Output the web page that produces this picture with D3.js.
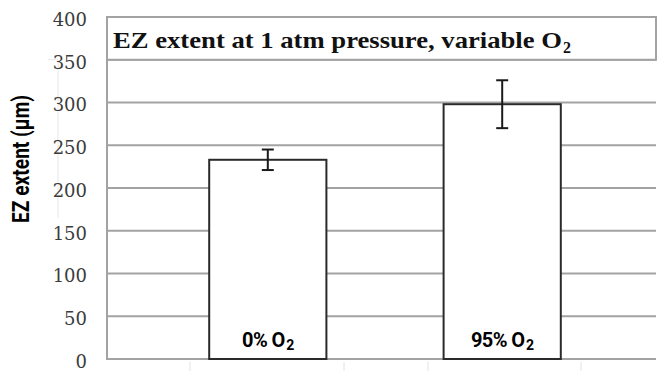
<!DOCTYPE html>
<html>
<head>
<meta charset="utf-8">
<script src="https://cdn.jsdelivr.net/npm/d3@7"></script>
<style>
  body { margin: 0; background: #fff; }
  svg { display: block; }
</style>
</head>
<body>
<svg id="chart" width="657" height="371"></svg>
<script>
// data
const categories = ["0% O", "95% O"];
const means = [233, 298];
const errors = [12, 28];
const yTicks = [0, 50, 100, 150, 200, 250, 300, 350, 400];
const title = "EZ extent at 1 atm pressure, variable O";
const yLabel = "EZ extent  (\u03bcm)";

const svg = d3.select("#chart");
const W = 657, H = 371;
const margin = {top: 17, right: 656, bottom: 359, left: 107};

// y scale
const y = d3.scaleLinear().domain([0, 400]).range([margin.bottom, margin.top]);

// x scale (band) : bars centred ~267 and ~502
const x = d3.scaleBand()
  .domain(categories)
  .range([92, 678])
  .padding(0.5);

const gridColor = "#a3a3a3";

// grid lines
svg.append("g")
  .selectAll("line")
  .data(yTicks)
  .join("line")
  .attr("x1", margin.left).attr("x2", margin.right)
  .attr("y1", d => y(d)).attr("y2", d => y(d))
  .attr("stroke", gridColor)
  .attr("stroke-width", 2);

// left axis line
svg.append("line")
  .attr("x1", margin.left).attr("x2", margin.left)
  .attr("y1", y(400) - 1).attr("y2", y(0) + 1)
  .attr("stroke", gridColor)
  .attr("stroke-width", 2);

// faint marks below the axis
svg.append("g")
  .selectAll("line")
  .data([190, 344, 428, 581])
  .join("line")
  .attr("x1", d => d).attr("x2", d => d)
  .attr("y1", margin.bottom + 3).attr("y2", H)
  .attr("stroke", "#e2e2e2")
  .attr("stroke-width", 1);

// faint line near y label
svg.append("path")
  .attr("d", `M48,${y(350)}H58V${y(165)}`)
  .attr("fill", "none")
  .attr("stroke", "#e6e6e6")
  .attr("stroke-width", 1);

// y tick labels
const yAxis = svg.append("g")
  .attr("transform", `translate(${margin.left},0)`)
  .call(d3.axisLeft(y).tickValues(yTicks).tickSize(0).tickPadding(20));
yAxis.select(".domain").remove();
yAxis.selectAll("text")
  .attr("font-family", "'DejaVu Serif', 'Liberation Serif', serif")
  .attr("font-size", 18)
  .attr("fill", "#3c3c3c")
  .attr("dy", "0.47em");

// y axis label
svg.append("text")
  .attr("transform", `translate(29,${(95 + 223) / 2}) rotate(-90)`)
  .attr("text-anchor", "middle")
  .attr("font-family", "'Roboto', 'Liberation Sans', sans-serif")
  .attr("font-weight", "bold")
  .attr("font-size", 23)
  .attr("textLength", 128)
  .attr("lengthAdjust", "spacingAndGlyphs")
  .attr("fill", "#000")
  .text(yLabel);

// title box
svg.append("rect")
  .attr("x", margin.left).attr("y", y(400))
  .attr("width", margin.right - margin.left).attr("height", y(350) - y(400))
  .attr("fill", "#fff")
  .attr("stroke", gridColor)
  .attr("stroke-width", 2);

const t = svg.append("text")
  .attr("x", 113).attr("y", 48)
  .attr("font-family", "'Liberation Serif', 'DejaVu Serif', serif")
  .attr("font-weight", "bold")
  .attr("font-size", 23)
  .attr("fill", "#111");
t.append("tspan")
  .attr("textLength", 449)
  .attr("lengthAdjust", "spacingAndGlyphs")
  .text(title);
t.append("tspan").attr("font-size", 16).attr("dy", 5).attr("dx", 1).text("2");

// bars
svg.append("g")
  .selectAll("rect")
  .data(categories)
  .join("rect")
  .attr("x", d => x(d))
  .attr("width", x.bandwidth())
  .attr("y", (d, i) => y(means[i]))
  .attr("height", (d, i) => y(0) - y(means[i]))
  .attr("fill", "#fff")
  .attr("stroke", "#2a2a2a")
  .attr("stroke-width", 2);

// error bars
const eb = svg.append("g")
  .attr("stroke", "#1a1a1a")
  .attr("stroke-width", 2);
categories.forEach((c, i) => {
  const cx = x(c) + x.bandwidth() / 2;
  const y1 = y(means[i] + errors[i]);
  const y2 = y(means[i] - errors[i]);
  eb.append("line").attr("x1", cx).attr("x2", cx).attr("y1", y1).attr("y2", y2);
  eb.append("line").attr("x1", cx - 6).attr("x2", cx + 6).attr("y1", y1).attr("y2", y1);
  eb.append("line").attr("x1", cx - 6).attr("x2", cx + 6).attr("y1", y2).attr("y2", y2);
});

// category labels inside bars
const lab = svg.append("g")
  .selectAll("text")
  .data(categories)
  .join("text")
  .attr("x", d => x(d) + x.bandwidth() / 2)
  .attr("y", 347)
  .attr("text-anchor", "middle")
  .attr("font-family", "'Roboto', 'Liberation Sans', sans-serif")
  .attr("font-weight", "bold")
  .attr("font-size", 20)
  .attr("letter-spacing", -0.6)
  .attr("fill", "#000");
lab.append("tspan").text(d => d);
lab.append("tspan").attr("font-size", 14).attr("dy", 3).attr("dx", 1.5).text("2");
</script>
</body>
</html>
